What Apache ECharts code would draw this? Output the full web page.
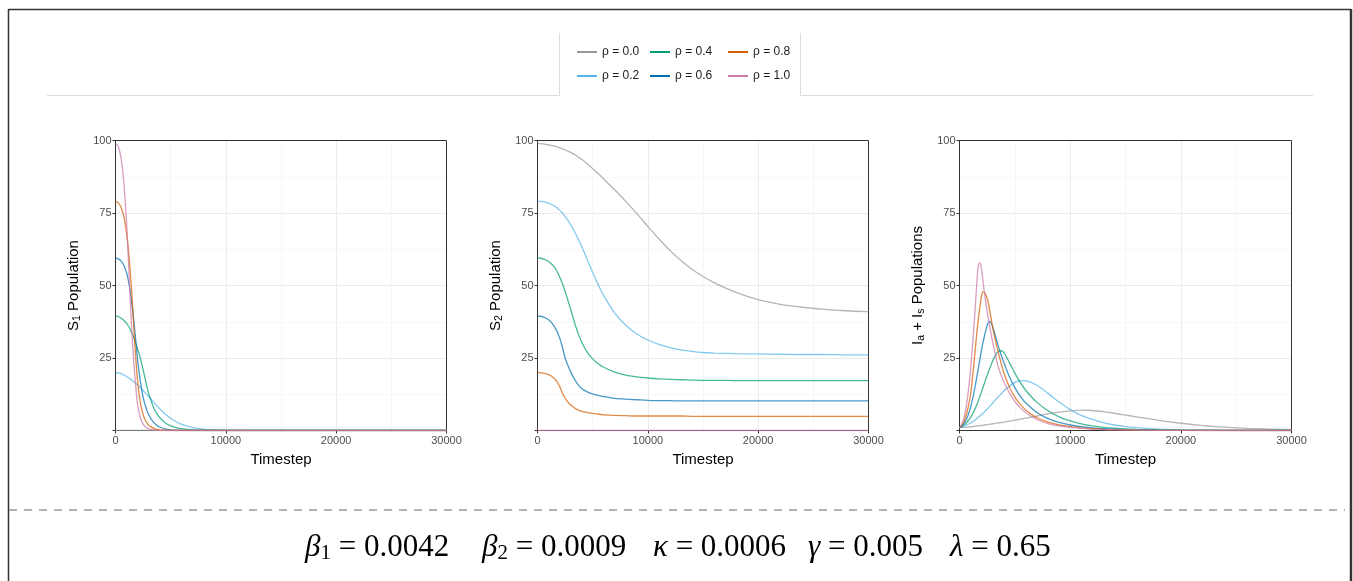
<!DOCTYPE html>
<html><head><meta charset="utf-8">
<script src="https://cdn.jsdelivr.net/npm/echarts@6/dist/echarts.min.js"></script>
<style>html,body{margin:0;padding:0;background:#fff}#c{width:1353px;height:581px}</style>
</head><body><div id="c"></div>
<script>
const T = [0,250,500,750,1000,1125,1250,1375,1500,1625,1750,1875,2000,2125,2250,2375,2500,2625,2750,2875,3000,3250,3500,3750,4000,4500,5000,5500,6000,7000,8000,9000,10000,11000,12000,13000,14000,15000,16000,18000,20000,22000,24000,26000,28000,30000];
const seriesNames = ['ρ = 0.0','ρ = 0.2','ρ = 0.4','ρ = 0.6','ρ = 0.8','ρ = 1.0'];
const colors = ['#999999','#56B4E9','#009E73','#0072B2','#D55E00','#CC79A7'];
const xTicks = [0,10000,20000,30000];
const yTicks = [25,50,75,100];

// Panel 1: S1 population
const s1_r00 = [0,0,0,0,0,0,0,0,0,0,0,0,0,0,0,0,0,0,0,0,0,0,0,0,0,0,0,0,0,0,0,0,0,0,0,0,0,0,0,0,0,0,0,0,0,0];
const s1_r02 = [20,19.9,19.6,19.2,18.6,18.3,18,17.65,17.3,16.9,16.5,16.1,15.7,15.25,14.8,14.3,13.8,13.3,12.8,12.3,11.8,10.7,9.6,8.5,7.5,5.7,4.2,3,2.1,1,0.45,0.2,0.08,0.03,0,0,0,0,0,0,0,0,0,0,0,0];
const s1_r04 = [39.5,39.3,38.8,38,37,36.3,35.5,34.6,33.5,32.3,31,29.6,28,26.6,25,23,21,18.9,16.8,14.7,12.8,10,7.5,5.8,4.5,2.7,1.6,1,0.6,0.2,0.07,0,0,0,0,0,0,0,0,0,0,0,0,0,0,0];
const s1_r06 = [59.5,59.2,58.5,57,54.5,52.5,50,47,43,39,34.5,29.5,24.5,20.5,17,14,11.5,9.6,8,6.6,5.5,3.8,2.6,1.8,1.2,0.55,0.25,0.12,0.06,0,0,0,0,0,0,0,0,0,0,0,0,0,0,0,0,0];
const s1_r08 = [79,78.5,77,74,68,64,59,53,46,38,30,23,17,12.8,9.5,7.2,5.5,4.2,3.2,2.5,1.9,1.15,0.7,0.42,0.25,0.1,0.04,0,0,0,0,0,0,0,0,0,0,0,0,0,0,0,0,0,0,0];
const s1_r10 = [99,98,94,86,72,62.5,52,42,33,25.5,19,13.5,9,6.5,4.5,3.2,2.2,1.6,1.1,0.8,0.6,0.35,0.2,0.12,0.07,0,0,0,0,0,0,0,0,0,0,0,0,0,0,0,0,0,0,0,0,0];

// Panel 2: S2 population
const s2_r00 = [99,98.95,98.85,98.7,98.5,98.4,98.3,98.2,98.1,97.95,97.8,97.65,97.5,97.3,97.15,96.95,96.75,96.55,96.35,96.15,95.9,95.4,94.8,94.1,93.5,92,90.3,88.6,86.7,83,79,74.8,70.4,66.1,62.1,58.6,55.6,53.1,51,47.6,45.1,43.5,42.5,41.8,41.3,41];
const s2_r02 = [79,79,78.9,78.7,78.4,78.2,78,77.75,77.5,77.15,76.8,76.4,76,75.5,75,74.4,73.8,73.15,72.5,71.75,71,69.3,67.5,65.5,63.5,59,54.5,50.3,46.5,40.5,36.3,33.3,31.2,29.7,28.6,27.8,27.3,26.9,26.7,26.5,26.4,26.3,26.2,26.2,26.1,26.1];
const s2_r04 = [59.5,59.4,59.2,58.8,58.3,57.9,57.5,57,56.5,55.8,55,54.1,53,51.9,50.7,49.4,48,46.5,45,43.4,41.8,38.6,35.5,32.8,30.5,27,24.7,23,21.8,20.1,19.1,18.5,18.1,17.8,17.6,17.5,17.4,17.3,17.3,17.2,17.2,17.2,17.2,17.2,17.2,17.2];
const s2_r06 = [39.5,39.4,39.2,38.8,38.2,37.8,37.3,36.7,36,35.2,34.3,33.2,32,30.5,28.8,26.9,25,23.7,22.5,21.4,20.3,18.4,16.8,15.5,14.5,13.3,12.6,12.1,11.7,11.1,10.8,10.6,10.4,10.3,10.3,10.2,10.2,10.2,10.2,10.2,10.2,10.2,10.2,10.2,10.2,10.2];
const s2_r08 = [20,19.9,19.8,19.6,19.3,19.05,18.8,18.4,18,17.5,16.9,16.2,15.3,14.1,13,12,11.2,10.5,9.8,9.3,8.8,8.1,7.4,7,6.6,6.2,5.9,5.6,5.4,5.2,5.1,5,5,5,5,5,4.9,4.9,4.9,4.9,4.9,4.9,4.9,4.9,4.9,4.9];
const s2_r10 = [0,0,0,0,0,0,0,0,0,0,0,0,0,0,0,0,0,0,0,0,0,0,0,0,0,0,0,0,0,0,0,0,0,0,0,0,0,0,0,0,0,0,0,0,0,0];

// Panel 3: Ia + Is populations
const s3_r00 = [1,1.05,1.1,1.2,1.3,1.35,1.4,1.45,1.5,1.55,1.6,1.68,1.75,1.82,1.9,1.95,2,2.08,2.15,2.22,2.3,2.45,2.6,2.75,2.9,3.25,3.6,3.95,4.3,5,5.7,6.3,6.8,7,6.9,6.5,5.95,5.3,4.7,3.5,2.5,1.7,1.15,0.75,0.5,0.3];
const s3_r02 = [1,1.3,1.7,2.1,2.6,2.9,3.2,3.55,3.9,4.3,4.7,5.1,5.5,5.95,6.4,6.9,7.4,7.9,8.4,8.95,9.5,10.55,11.6,12.6,13.6,15.3,16.6,17.2,17.1,15.6,12.8,9.8,7.2,5.2,3.8,2.7,1.9,1.35,1,0.5,0.25,0.12,0.06,0.03,0.01,0];
const s3_r04 = [1,1.5,2.2,3.2,4.5,5.3,6.2,7.2,8.3,9.5,10.8,12.1,13.5,14.9,16.3,17.7,19,20.3,21.6,22.8,24,26,27.3,27.5,26.9,23.5,19.8,16.5,13.8,9.7,6.8,4.7,3.3,2.3,1.6,1.1,0.8,0.55,0.4,0.2,0.1,0.05,0.02,0,0,0];
const s3_r06 = [1,1.8,3,5,8,9.9,12,14.4,17,19.7,22.5,25.3,28,30.4,32.5,34.5,36.3,37.4,37.6,36.9,35.8,32.5,29.2,26.2,23.5,18.6,14.8,11.8,9.5,6.2,4.1,2.8,1.9,1.3,0.9,0.62,0.43,0.3,0.21,0.1,0.05,0.02,0,0,0,0];
const s3_r08 = [1,2,4,7.5,12.5,16.5,21,26,31,35.8,40,43.5,46.5,47.9,47.7,46.8,45.5,43.5,41,38.3,35.5,31,27,23.3,20,15,11.5,9,7,4.4,2.85,1.9,1.3,0.9,0.6,0.4,0.28,0.2,0.14,0.07,0.03,0,0,0,0,0];
const s3_r10 = [1,2.5,6,12,21,26.8,33,39.5,47,54,57.6,57.7,55.2,51.5,47.5,44,41,38.2,35.5,33,30.5,26,22,19.2,16.8,13,10,7.8,6.1,3.8,2.4,1.6,1.05,0.7,0.47,0.32,0.22,0.15,0.1,0.05,0.02,0,0,0,0,0];

const panels = [
  [s1_r00,s1_r02,s1_r04,s1_r06,s1_r08,s1_r10],
  [s2_r00,s2_r02,s2_r04,s2_r06,s2_r08,s2_r10],
  [s3_r00,s3_r02,s3_r04,s3_r06,s3_r08,s3_r10]
];
const yNames = [
  '{n|S}{s|1}{n| Population}',
  '{n|S}{s|2}{n| Population}',
  '{n|I}{s|a}{n| + I}{s|s}{n| Populations}'
];
const formulaParts = [
  '{g|β}{s|1}{t| = 0.0042}',
  '{g|β}{s|2}{t| = 0.0009}',
  '{g|κ}{t| = 0.0006}',
  '{g|γ}{t| = 0.005}',
  '{g|λ}{t| = 0.65}'
];

const FONT = '"Liberation Sans", Arial, sans-serif';
const gridsPos = [{left:115.5,width:331},{left:537.5,width:331},{left:959.5,width:332}];
const grids = gridsPos.map(g => ({left:g.left, width:g.width, top:140.5, height:290, show:true, borderColor:'#333', borderWidth:1, backgroundColor:'transparent', z:3}));
const xAxes = [0,1,2].map(p => ({
  gridIndex:p, type:'value', min:xTicks[0], max:xTicks[xTicks.length-1], interval:10000,
  axisLine:{show:true, onZero:false, lineStyle:{color:'#333', width:1}},
  axisTick:{show:true, length:3, lineStyle:{color:'#333'}},
  axisLabel:{color:'#4d4d4d', fontSize:11, fontFamily:FONT, margin:5, formatter: v => String(v)},
  splitLine:{show:true, showMinLine:false, showMaxLine:false, lineStyle:{color:'#ebebeb', width:1}},
  minorTick:{show:false, splitNumber:2},
  minorSplitLine:{show:true, lineStyle:{color:'#f3f3f3', width:0.7}},
  name:'Timestep', nameLocation:'middle', nameGap:22,
  nameTextStyle:{color:'#000', fontSize:15, fontFamily:FONT}
}));
const yAxes = [0,1,2].map(p => ({
  gridIndex:p, type:'value', min:0, max:yTicks[yTicks.length-1], interval:25,
  axisLine:{show:true, lineStyle:{color:'#333', width:1}},
  axisTick:{show:true, length:3, lineStyle:{color:'#333'}},
  axisLabel:{color:'#4d4d4d', fontSize:11, fontFamily:FONT, margin:4, formatter: v => (yTicks.indexOf(v) >= 0 ? String(v) : '')},
  splitLine:{show:true, showMinLine:false, showMaxLine:false, lineStyle:{color:'#ebebeb', width:1}},
  minorTick:{show:false, splitNumber:2},
  minorSplitLine:{show:true, lineStyle:{color:'#f3f3f3', width:0.7}},
  name:yNames[p], nameLocation:'middle', nameGap:33,
  nameTextStyle:{color:'#000', fontSize:15, fontFamily:FONT,
    rich:{n:{fontSize:15, color:'#000', fontFamily:FONT, lineHeight:17},
          s:{fontSize:10.5, color:'#000', fontFamily:FONT, lineHeight:6, verticalAlign:'bottom'}}}
}));
const series = [];
panels.forEach((arrs, p) => {
  arrs.forEach((arr, k) => {
    series.push({
      type:'line', name:seriesNames[k], xAxisIndex:p, yAxisIndex:p,
      data:T.map((t,i)=>[t, arr[i]]), showSymbol:false, symbol:'none', smooth:0.3,
      lineStyle:{width:1.3, color:colors[k], opacity:0.72}, itemStyle:{color:colors[k]},
      emphasis:{disabled:true}, animation:false
    });
  });
});
const legendBase = {orient:'vertical', icon:'rect', itemWidth:20, itemHeight:2, itemGap:10, itemTextGap:8, top:45, padding:0,
  textStyle:{fontSize:12, color:'#1a1a1a', fontFamily:FONT, lineHeight:14}, itemStyle:{opacity:1}};
const legends = [
  Object.assign({}, legendBase, {left:577, data:[seriesNames[0], seriesNames[1]]}),
  Object.assign({}, legendBase, {left:650, data:[seriesNames[2], seriesNames[3]]}),
  Object.assign({}, legendBase, {left:728, data:[seriesNames[4], seriesNames[5]]})
];
const SERIF = '"Liberation Serif", "DejaVu Serif", serif';
const formulaX = [305, 482, 653, 808, 950];
const richF = {
  g:{fontFamily:SERIF, fontStyle:'italic', fontSize:31, fill:'#000', lineHeight:32},
  s:{fontFamily:SERIF, fontSize:21, fill:'#000', lineHeight:12, verticalAlign:'bottom'},
  t:{fontFamily:SERIF, fontSize:31, fill:'#000', lineHeight:32}
};
const graphic = [
  {type:'line', shape:{x1:8.5,y1:9.5,x2:1351,y2:9.5}, style:{stroke:'#333', lineWidth:1.5}},
  {type:'line', shape:{x1:8.5,y1:9,x2:8.5,y2:581}, style:{stroke:'#333', lineWidth:1.5}},
  {type:'line', shape:{x1:1351,y1:9,x2:1351,y2:581}, style:{stroke:'#333', lineWidth:2.5}},
  {type:'line', shape:{x1:47,y1:95.5,x2:559.5,y2:95.5}, style:{stroke:'#dcdcdc', lineWidth:1}},
  {type:'line', shape:{x1:559.5,y1:33,x2:559.5,y2:95.5}, style:{stroke:'#dcdcdc', lineWidth:1}},
  {type:'line', shape:{x1:800.5,y1:33,x2:800.5,y2:95.5}, style:{stroke:'#dcdcdc', lineWidth:1}},
  {type:'line', shape:{x1:800.5,y1:95.5,x2:1313,y2:95.5}, style:{stroke:'#dcdcdc', lineWidth:1}},
  {type:'line', shape:{x1:9,y1:510,x2:1345,y2:510}, style:{stroke:'#999', lineWidth:1.5, lineDash:[8,7]}}
];
formulaParts.forEach((txt, i) => {
  graphic.push({type:'text', x:formulaX[i], y:548, style:{text:txt, rich:richF, verticalAlign:'middle', align:'left', fill:'#000'}});
});

const chart = echarts.init(document.getElementById('c'), null, {renderer:'canvas'});
chart.setOption({
  animation:false, backgroundColor:'#fff',
  grid:grids, xAxis:xAxes, yAxis:yAxes, series:series, legend:legends, graphic:graphic
});
</script></body></html>
